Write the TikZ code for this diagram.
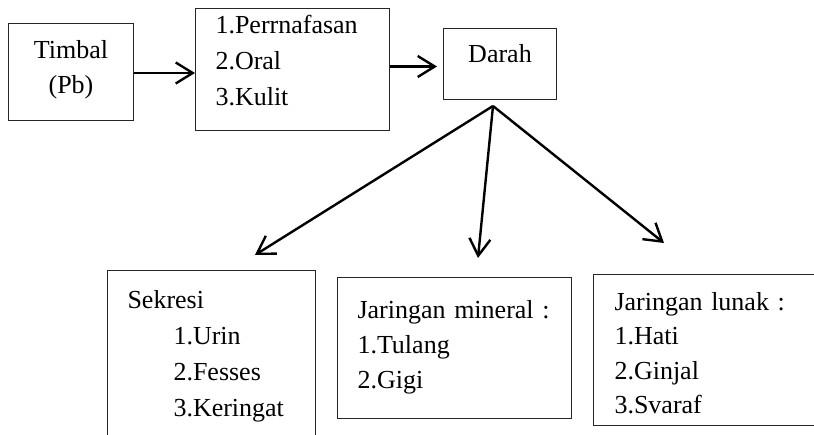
\documentclass[tikz,border=0pt]{standalone}
\usepackage{fontspec}
\setmainfont{Liberation Serif}
\usetikzlibrary{arrows.meta}

\tikzset{
  kotak/.style={draw=black!85, line width=1pt, anchor=north west, inner ysep=0pt,
    font=\fontsize{26}{36}\selectfont},
  panah/.style={line width=2.4pt, -{Straight Barb[length=17pt,width=21pt]}},
}

\begin{document}
\begin{tikzpicture}[x=1pt, y=-1pt]

        \clip (0,0) rectangle (814,435);

        % --- BARIS ATAS ---
        \node[kotak, inner xsep=0pt, text width=125pt, align=center,
              text height=35pt, text depth=62pt, font=\fontsize{26}{35}\selectfont]
              (timbal) at (8,23) {Timbal\\(Pb)};
        \node[kotak, inner xsep=20pt, text width=154pt, align=left,
              text height=25pt, text depth=97pt]
              (jalur) at (195,8) {1.Perrnafasan\\2.Oral\\3.Kulit};
        \node[kotak, inner xsep=0pt, text width=113pt, align=center,
              text height=34pt, text depth=37pt]
              (darah) at (443,28) {Darah};

        % panah masuk
        \draw[panah] ([yshift=-1pt]timbal.east) -- ([yshift=-1pt]timbal.east -| jalur.west);
        \draw[panah, shorten >=6pt] ([yshift=3pt]jalur.east) -- ([yshift=3pt]jalur.east -| darah.west);

        % --- BARIS BAWAH (terpotong di tepi bawah) ---
        \node[kotak, inner xsep=20pt, text width=168pt, align=left,
              text height=38pt, text depth=142pt]
              (sekresi) at (107,270) {Sekresi\\\hspace*{46pt}1.Urin\\\hspace*{46pt}2.Fesses\\\hspace*{46pt}3.Keringat};
        \node[kotak, inner xsep=20pt, text width=194pt, align=left,
              text height=41pt, text depth=100pt, font=\fontsize{26}{35}\selectfont]
              (mineral) at (337,277) {Jaringan mineral :\\1.Tulang\\2.Gigi};
        \node[kotak, inner xsep=21pt, text width=200pt, align=left,
              text height=36pt, text depth=115pt, font=\fontsize{26}{34.5}\selectfont]
              (lunak) at (593,274) {Jaringan lunak :\\1.Hati\\2.Ginjal\\3.Svaraf};

        % --- CABANG DARI DARAH ---
        \coordinate (cabang) at ([xshift=-7pt, yshift=-6pt]darah.south);
        \coordinate (ujungA) at (255,255);
        \coordinate (ujungB) at (478,258);
        \coordinate (ujungC) at (664,243);
        \draw[panah] (cabang) -- (ujungA);
        \draw[panah] (cabang) -- (ujungB);
        \draw[panah] (cabang) -- (ujungC);

    \end{tikzpicture}
\end{document}
